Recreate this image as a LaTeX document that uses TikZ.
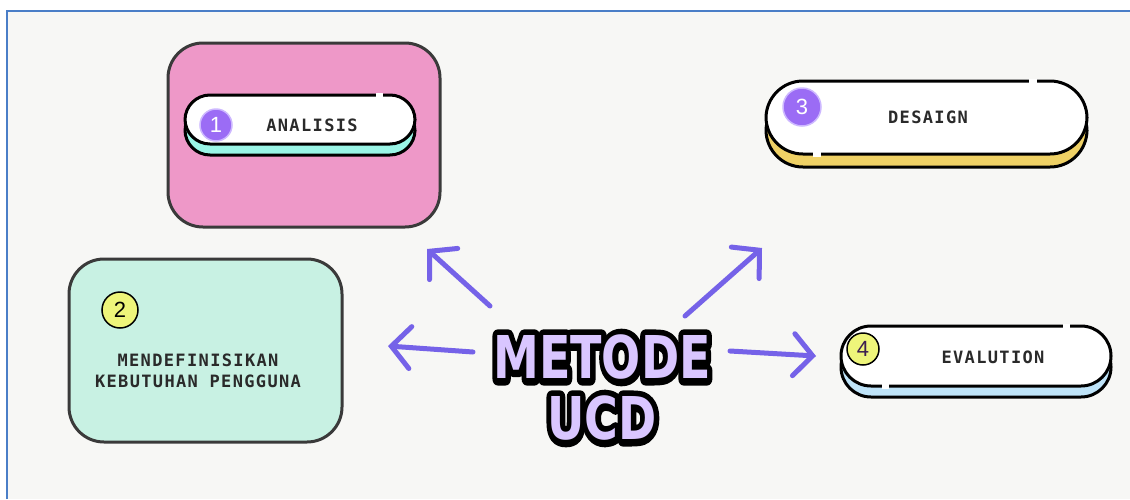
\documentclass[tikz,border=0pt]{standalone}
\usepackage{fontspec}
\setmainfont{DejaVu Sans}
\newfontfamily\labelfont{DejaVu Sans Mono}[LetterSpace=8]
\newfontfamily\digitfont{Liberation Sans}
\newfontfamily\titlefont{DejaVu Sans Bold}
\newfontfamily\titleedgefont{DejaVu Sans Bold}[FakeBold=22]
\usetikzlibrary{arrows.meta}

\definecolor{bgc}{HTML}{F7F7F5}
\definecolor{framec}{HTML}{4A7EC7}
\definecolor{bord}{HTML}{3A3A3A}
\definecolor{pinkc}{HTML}{EE98C8}
\definecolor{mintc}{HTML}{C8F1E3}
\definecolor{cyanc}{HTML}{9AF5E6}
\definecolor{yellowc}{HTML}{EFD165}
\definecolor{bluec}{HTML}{BEE3F8}
\definecolor{purplec}{HTML}{9B6CF5}
\definecolor{purpleedge}{HTML}{CDB8FF}
\definecolor{limec}{HTML}{EEF57A}
\definecolor{arrc}{HTML}{7562E8}
\definecolor{ucdfill}{HTML}{D9C6FF}
\definecolor{textc}{HTML}{2A2A2A}

% a stroked black copy (round joins) under the purple letters gives the thick outline
\newcommand\outlined[1]{%
  \special{pdf:literal direct 1 j}%
  \rlap{\textcolor{black}{\titleedgefont #1}}\textcolor{ucdfill}{\titlefont #1}}

\begin{document}
\begin{tikzpicture}[x=1pt,y=-1pt,
  card/.style={draw=bord, line width=3pt, rounded corners=35pt},
  pill/.style={draw=black, line width=3pt, fill=white},
  pillbase/.style={draw=black, line width=3pt},
  gap/.style={draw=white, line width=5pt},
  stepnum/.style={circle, inner sep=0pt, font=\digitfont\fontsize{22}{22}\selectfont},
  lbl/.style={font=\labelfont\bfseries\fontsize{17}{21}\selectfont, text=textc, align=center},
  arr/.style={draw=arrc, line width=5pt, line cap=round, line join=miter,
    -{Straight Barb[length=19pt,width=42pt,line cap=round]}}]

\useasboundingbox (0,0) rectangle (1130,499);
\fill[white] (0,0) rectangle (1130,499);
\fill[bgc] (7,11) rectangle (1130,499);
\draw[framec, line width=2pt] (7,499) -- (7,11) -- (1130,11);

% step 1: analysis card
\node[card, fill=pinkc, minimum width=272pt, minimum height=184pt] (box1) at (304,135) {};
\node[pillbase, fill=cyanc, rounded corners=25pt, minimum width=230pt, minimum height=49pt] (base1) at (300,130.5) {};
\node[pill, rounded corners=25pt, minimum width=230pt, minimum height=49pt] (pill1) at (300,119.5) {};
\draw[gap] (376,95) -- (383,95);
\node[stepnum, fill=purplec, draw=purpleedge, line width=1.5pt, minimum size=32pt, text=white] (n1) at (216,125) {1};
\node[lbl] (t1) at (312,125) {ANALISIS};

% step 2: user needs card
\node[card, fill=mintc, minimum width=273pt, minimum height=183pt] (box2) at (205.5,350.5) {};
\node[stepnum, fill=limec, draw=black, line width=1.5pt, minimum size=36pt, text=black] (n2) at (120,310) {2};
\node[lbl] (t2) at (198,371) {MENDEFINISIKAN\\KEBUTUHAN PENGGUNA};

% step 3: design pill
\node[pillbase, fill=yellowc, rounded corners=37pt, minimum width=321pt, minimum height=73pt] (base3) at (926.5,130.5) {};
\node[pill, rounded corners=37pt, minimum width=321pt, minimum height=73pt] (pill3) at (926.5,117.5) {};
\draw[gap] (1029,81) -- (1037,81);
\draw[gap] (813,154) -- (821,154);
\node[stepnum, fill=purplec, draw=purpleedge, line width=1.5pt, minimum size=38pt, text=white] (n3) at (802,107) {3};
\node[lbl] (t3) at (928,117) {DESAIGN};

% step 4: evaluation pill
\node[pillbase, fill=bluec, rounded corners=30pt, minimum width=270pt, minimum height=60pt] (base4) at (976,367) {};
\node[pill, rounded corners=30pt, minimum width=270pt, minimum height=60pt] (pill4) at (976,356) {};
\draw[gap] (1063,326) -- (1070,326);
\draw[gap] (882,386) -- (889,386);
\node[stepnum, fill=limec, draw=black, line width=1.5pt, minimum size=32pt, text={rgb,255:red,60;green,30;blue,80}] (n4) at (863,349) {4};
\node[lbl] (t4) at (993,357) {EVALUTION};

% central title
\node[align=center, inner sep=0pt, font=\fontsize{59}{61}\selectfont] (title) at (602,388)
  {\scalebox{0.78}[1]{\outlined{METODE}}\\\scalebox{0.78}[1]{\outlined{UCD}}};

% arrows pointing out from the title
\coordinate (a1s) at (490,306); \coordinate (a1e) at (427,249);
\coordinate (a2s) at (473,352); \coordinate (a2e) at (388,346);
\coordinate (a3s) at (685,316); \coordinate (a3e) at (762,248);
\coordinate (a4s) at (730,351); \coordinate (a4e) at (816,356);
\draw[arr] (a1s) -- (a1e);
\draw[arr] (a2s) -- (a2e);
\draw[arr] (a3s) -- (a3e);
\draw[arr] (a4s) -- (a4e);
\end{tikzpicture}
\end{document}
